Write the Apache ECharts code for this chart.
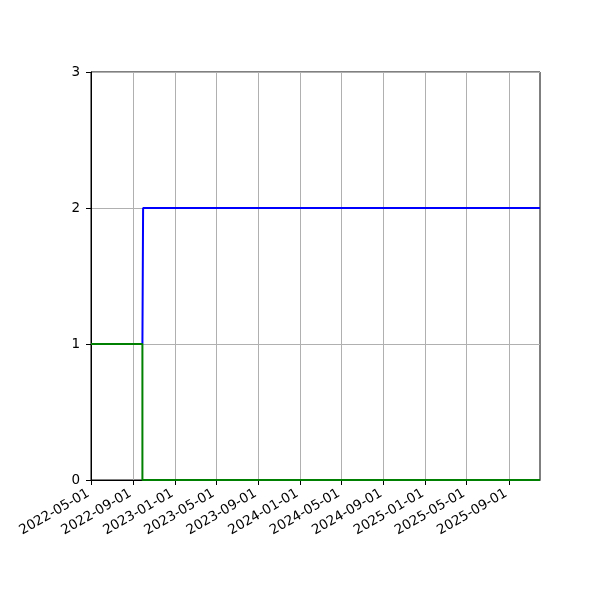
<!DOCTYPE html>
<html>
<head>
<meta charset="utf-8">
<script src="https://cdn.jsdelivr.net/npm/echarts@6/dist/echarts.min.js"></script>
<style>
  html, body { margin: 0; padding: 0; background: #fff; }
  #main { width: 600px; height: 600px; }
</style>
</head>
<body>
<div id="main"></div>
<script>
// values
var tickLabels = ['2022-05-01', '2022-09-01', '2023-01-01', '2023-05-01', '2023-09-01',
  '2024-01-01', '2024-05-01', '2024-09-01', '2025-01-01', '2025-05-01', '2025-09-01']
var xMin = '2022-05-01'
var xMax = '2025-12-01'

var greenDates = ['2022-05-01', '2022-09-28', '2022-09-28', '2025-12-01']
var greenValues = [1, 1, 0, 0]

var blueDates = ['2022-09-28', '2022-09-30', '2025-12-01']
var blueValues = [1, 2, 2]

function ts (d) {
  return new Date(d + 'T00:00:00').getTime()
}
function pairs (dates, vals) {
  return dates.map(function (d, i) { return [ts(d), vals[i]] })
}
var tickValues = tickLabels.map(ts)

function pad (n) { return n < 10 ? '0' + n : '' + n }
function fmtDate (v) {
  var d = new Date(v)
  return d.getFullYear() + '-' + pad(d.getMonth() + 1) + '-' + pad(d.getDate())
}

var font = 'DejaVu Sans'
var myChart = echarts.init(document.getElementById('main'))

myChart.setOption({
  animation: false,
  grid: {
    left: 91, right: 60, top: 72, bottom: 120,
    show: true, borderColor: '#000', borderWidth: 1,
    containLabel: false
  },
  xAxis: {
    type: 'value',
    min: ts(xMin),
    max: ts(xMax),
    axisLine: { show: true, lineStyle: { color: '#000', width: 1 } },
    axisTick: { show: true, inside: false, length: 5, lineStyle: { color: '#000' }, customValues: tickValues },
    axisLabel: {
      customValues: tickValues,
      interval: 0,
      hideOverlap: false,
      rotate: 30,
      margin: 11,
      padding: [0, 3, 0, 0],
      color: '#000',
      fontFamily: font,
      fontSize: 13.5,
      showMinLabel: true,
      showMaxLabel: true,
      formatter: fmtDate
    },
    splitLine: { show: true, lineStyle: { color: '#b0b0b0', width: 1 } }
  },
  yAxis: {
    type: 'value',
    min: 0,
    max: 3,
    interval: 1,
    axisLine: { show: true, lineStyle: { color: '#000', width: 1 } },
    axisTick: { show: true, inside: false, length: 5, lineStyle: { color: '#000' } },
    axisLabel: { color: '#000', fontFamily: font, fontSize: 13.5, margin: 11 },
    splitLine: { show: true, lineStyle: { color: '#b0b0b0', width: 1 } }
  },
  series: [
    {
      name: 'blue',
      type: 'line',
      data: pairs(blueDates, blueValues),
      showSymbol: false,
      lineStyle: { color: '#0000ff', width: 2 },
      z: 2
    },
    {
      name: 'green',
      type: 'line',
      data: pairs(greenDates, greenValues),
      showSymbol: false,
      lineStyle: { color: '#008000', width: 2 },
      z: 3
    }
  ]
})
</script>
</body>
</html>
